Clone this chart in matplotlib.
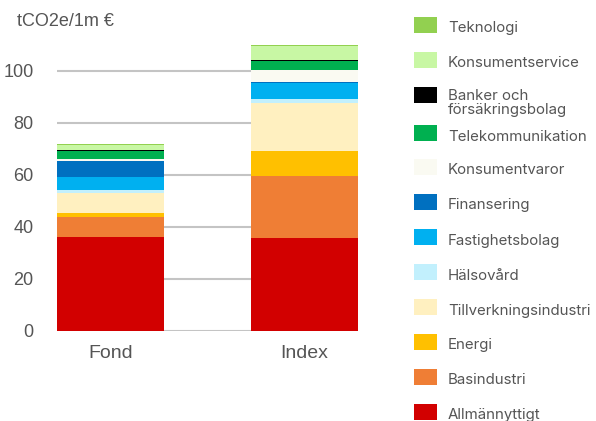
import matplotlib.pyplot as plt
from matplotlib.patches import Rectangle

# sector emissions intensity, tCO2e per 1m EUR, stacked bottom -> top
portfolios = ['Fond', 'Index']
sectors = ['Allmännyttigt', 'Basindustri', 'Energi', 'Tillverkningsindustri',
           'Hälsovård', 'Fastighetsbolag', 'Finansering', 'Konsumentvaror',
           'Telekommunikation', 'Banker och\nförsäkringsbolag',
           'Konsumentservice', 'Teknologi']
fond = [36.0, 7.7, 1.5, 7.7, 1.2, 5.1, 6.2, 0.5, 3.2, 0.4, 1.8, 0.4]
index = [35.8, 23.8, 9.6, 18.5, 1.5, 5.9, 0.4, 4.9, 3.2, 0.4, 5.4, 0.6]
colors = ['#d20000', '#ef7e35', '#ffc000', '#fff0c0', '#c2f0fd', '#00b0f0',
          '#0070c0', '#fafaf2', '#00b050', '#000000', '#c8f7a4', '#92d050']
yticks = [0, 20, 40, 60, 80, 100]

grey = '#555555'
fig = plt.figure(figsize=(5.96, 4.21), dpi=100)
ax = fig.add_axes([57 / 596, 1 - 330.7 / 421, 301 / 596, 286 / 421])

width = 0.554
bottoms = [0.0, 0.0]
for i, name in enumerate(sectors):
    vals = [fond[i], index[i]]
    ax.bar([0, 1], vals, width=width, bottom=bottoms, color=colors[i],
           linewidth=0, zorder=3)
    bottoms = [b + v for b, v in zip(bottoms, vals)]

ax.set_xlim(-width / 2, 1 + width / 2)
ax.set_ylim(0, 110)
ax.set_yticks(yticks)
ax.set_xticks([0, 1])
ax.set_xticklabels(portfolios)
ax.grid(axis='y', color='#c4c4c4', linewidth=1.5, zorder=1)
for s in ax.spines.values():
    s.set_visible(False)
ax.tick_params(axis='y', length=0, pad=17, labelsize=13, labelcolor=grey)
ax.tick_params(axis='x', length=0, pad=10, labelsize=14, labelcolor=grey)
for lab in ax.get_xticklabels() + ax.get_yticklabels():
    lab.set_family('Liberation Sans')

fig.text(17 / 596, 1 - 22 / 421, 'tCO2e/1m €', fontsize=13, color=grey,
         family='Liberation Sans', va='center', ha='left')

# legend, top entry first
row_y = [24.7, 59.7, 95, 133, 167, 202, 237, 272, 307, 342, 377, 412]
for k, i in enumerate(range(len(sectors) - 1, -1, -1)):
    yc = row_y[k]
    fig.patches.append(Rectangle((414 / 596, 1 - (yc + 8) / 421), 23 / 596, 16 / 421,
                                 transform=fig.transFigure, color=colors[i],
                                 linewidth=0))
    if '\n' in sectors[i]:
        fig.text(448 / 596, 1 - (yc - 6) / 421, sectors[i], fontsize=10.8,
                 color=grey, family='Inter', va='top', ha='left',
                 linespacing=1.0)
    else:
        fig.text(448 / 596, 1 - (yc + 3.5) / 421, sectors[i], fontsize=10.8,
                 color=grey, family='Inter', va='center', ha='left')

fig.savefig('out.png', dpi=100)
